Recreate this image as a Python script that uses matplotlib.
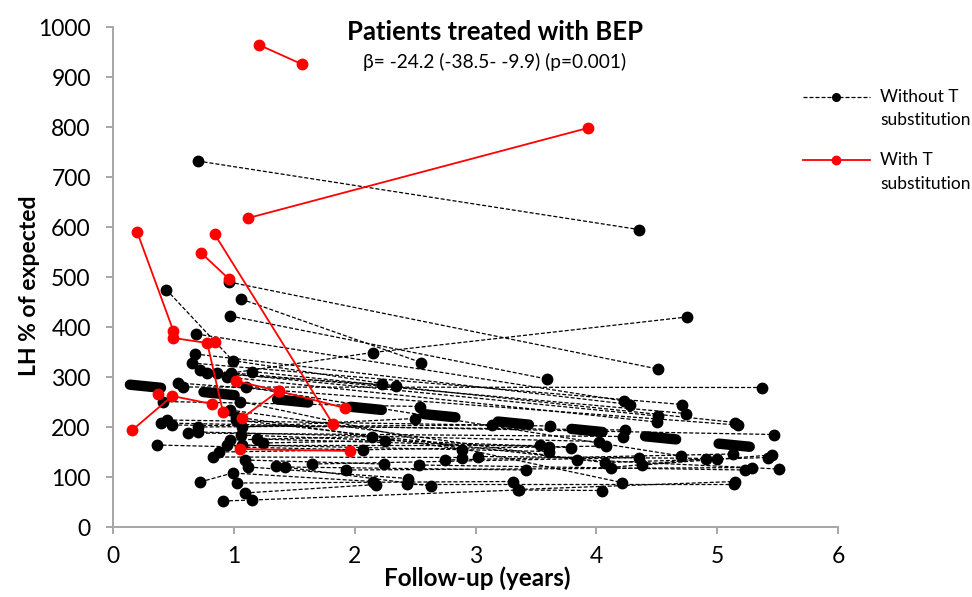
import matplotlib
matplotlib.use("Agg")
import matplotlib.pyplot as plt
from matplotlib.lines import Line2D

plt.rcParams['font.family'] = ['Lato', 'DejaVu Sans']

# follow-up (years) and LH (% of expected), one list per patient
black_x = [
    [0.70, 4.35], [0.96, 4.51], [1.06, 2.55], [0.97, 3.59], [0.44, 0.99, 2.23],
    [0.58, 5.37], [0.69, 4.23], [0.68, 4.28], [0.65, 4.71], [0.72, 4.74],
    [0.78, 2.34], [0.86, 4.51], [0.94, 4.50], [0.98, 2.15, 4.75], [1.15, 5.15],
    [0.54, 5.17], [0.41, 2.54], [0.40, 5.47], [0.45, 3.62], [0.49, 4.24],
    [0.62, 4.22], [0.70, 3.14], [0.70, 4.02], [0.36, 2.07], [0.72, 0.99, 2.15],
    [0.91, 1.15, 3.36, 4.05], [1.03, 3.31], [1.09, 2.18], [0.83, 2.89], [0.88, 4.08],
    [0.94, 3.53], [0.97, 2.14], [1.06, 3.61], [1.07, 2.50], [1.07, 3.61],
    [1.09, 2.24], [1.12, 2.44], [1.19, 3.79], [1.24, 2.25], [1.02, 2.89],
    [1.35, 2.63], [1.42, 3.42], [1.65, 4.35], [1.93, 5.29], [2.53, 5.23],
    [2.75, 5.13], [3.02, 5.00], [2.43, 5.14], [3.35, 5.15], [0.97, 3.84, 5.51],
    [1.02, 4.07, 5.42], [4.12, 4.91], [4.38, 5.45], [1.05, 4.21], [1.10, 4.70],
]
black_y = [
    [732, 595], [490, 316], [456, 329], [422, 296], [475, 333, 287],
    [280, 279], [386, 252], [346, 245], [328, 245], [314, 227],
    [308, 283], [309, 222], [300, 210], [308, 349, 420], [311, 209],
    [288, 204], [251, 241], [208, 185], [214, 202], [204, 194],
    [188, 181], [200, 204], [190, 171], [164, 154], [90, 108, 91],
    [52, 54, 74, 73], [88, 91], [68, 85], [140, 139], [150, 162],
    [164, 164], [174, 181], [184, 161], [200, 217], [164, 151],
    [134, 126], [120, 97], [176, 159], [168, 173], [220, 155],
    [122, 82], [120, 114], [126, 139], [114, 119], [124, 114],
    [134, 146], [141, 137], [87, 87], [75, 91], [234, 135, 116],
    [214, 129, 139], [119, 137], [124, 144], [251, 89], [280, 142],
]

red_x = [
    [1.21, 1.56], [1.12, 3.93], [0.20, 0.50], [0.50, 0.78, 0.91], [0.73, 0.96],
    [0.84, 1.82], [0.16, 0.49, 0.82], [0.37], [0.84], [1.02, 1.37, 1.92],
    [1.07, 1.37], [1.05, 1.96],
]
red_y = [
    [964, 926], [618, 798], [590, 392], [378, 368, 230], [548, 496],
    [586, 206], [194, 262, 246], [266], [370], [292, 272, 238],
    [218, 272], [156, 152],
]

# mixed-model slope per year of follow-up
beta = -24.2
intercept = 288
fit_x = [0.14, 5.31]
fit_y = [intercept + beta * v for v in fit_x]

W, H = 972, 597
fig = plt.figure(figsize=(W / 100, H / 100), dpi=100)
ax = fig.add_axes([113 / W, 70 / H, 725 / W, 500 / H])

for xs, ys in zip(black_x, black_y):
    ax.plot(xs, ys, color='black', lw=0.9, dashes=(3.2, 1.6),
            marker='o', ms=7.5, mec='black', mfc='black', zorder=2)

ax.plot(fit_x, fit_y, color='black', lw=7.5, dashes=(3.0, 4.1),
        dash_capstyle='round', zorder=3)

for xs, ys in zip(red_x, red_y):
    ax.plot(xs, ys, color='#ff0000', lw=1.3, marker='o', ms=7.5,
            mec='#ff0000', mfc='#ff0000', zorder=4)

ax.set_xlim(0, 6)
ax.set_ylim(0, 1000)
ax.set_xticks(range(0, 7))
ax.set_yticks(range(0, 1001, 100))
for side in ['top', 'right']:
    ax.spines[side].set_visible(False)
for side in ['left', 'bottom']:
    ax.spines[side].set_color('#a6a6a6')
    ax.spines[side].set_linewidth(1.4)
ax.tick_params(axis='both', color='#a6a6a6', width=1.4, length=5,
               labelsize=16.5, labelcolor='black')
ax.tick_params(axis='y', pad=11)
ax.tick_params(axis='x', pad=9)

fig.text(30 / W, 1 - 286 / H, 'LH % of expected', rotation=90,
         ha='center', va='center', fontsize=16.5, fontweight='bold')
fig.text(477 / W, 1 - 578 / H, 'Follow-up (years)',
         ha='center', va='center', fontsize=17.5, fontweight='bold')
fig.text(495 / W, 1 - 32 / H, 'Patients treated with BEP',
         ha='center', va='center', fontsize=18.5, fontweight='bold')
fig.text(495 / W, 1 - 62 / H, 'β= -24.2 (-38.5- -9.9) (p=0.001)',
         ha='center', va='center', fontsize=13.8)

# legend drawn by hand so the marker sits on the first text line
fig.add_artist(Line2D([803 / W, 836 / W, 870 / W], [1 - 97 / H] * 3,
                      color='black', lw=0.9, dashes=(3.2, 1.6), marker='o',
                      ms=5.5, markevery=[1], transform=fig.transFigure))
fig.add_artist(Line2D([803 / W, 836 / W, 870 / W], [1 - 160 / H] * 3,
                      color='#ff0000', lw=1.3, marker='o', ms=6,
                      markevery=[1], transform=fig.transFigure))
for py, label in [(97, 'Without T'), (120, 'substitution'),
                  (160, 'With T'), (184, 'substitution')]:
    fig.text(880 / W, 1 - py / H, label, ha='left', va='center', fontsize=12.5)

fig.savefig('out.png', dpi=100)
